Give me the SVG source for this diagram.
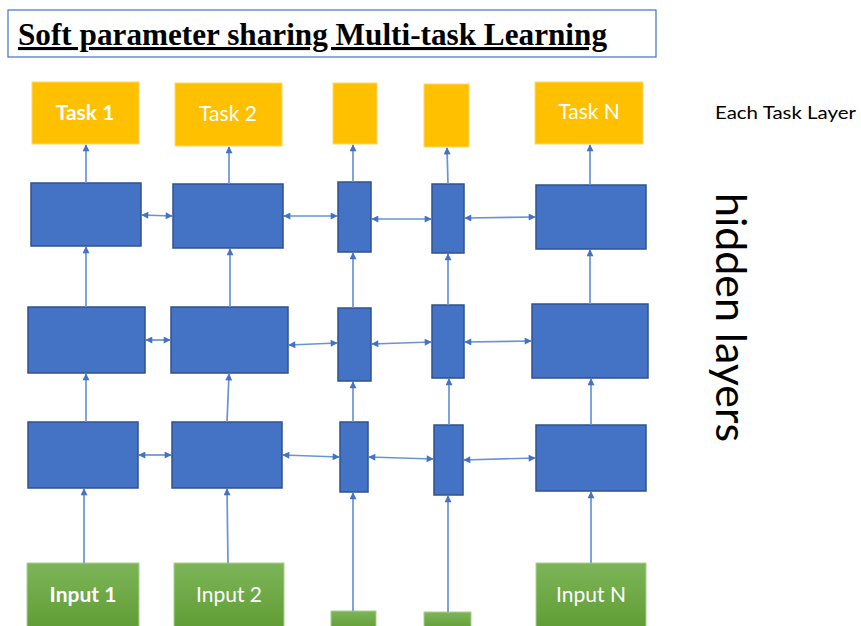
<svg xmlns="http://www.w3.org/2000/svg" width="861" height="626" viewBox="0 0 861 626">
<defs>
<style>
.task{fill:#FFC000;stroke:#FFD966;stroke-width:1}
.hid{fill:#4472C4;stroke:#2F528F;stroke-width:1.5}
.inp{fill:url(#g);stroke:#A9D18E;stroke-width:1}
.lbl{font-family:Lato,"Open Sans","Liberation Sans",sans-serif;fill:#fff;font-size:21px;text-anchor:middle}
.conn line{stroke:#6A93D6;stroke-width:1.7}
.up{marker-end:url(#ah)}
.bi{marker-start:url(#ah);marker-end:url(#ah)}
</style>
<linearGradient id="g" x1="0" y1="0" x2="0" y2="1">
<stop offset="0" stop-color="#7DB558"/>
<stop offset="1" stop-color="#5E9B33"/>
</linearGradient>
<marker id="ah" viewBox="0 0 10 10" refX="9" refY="5" markerWidth="8" markerHeight="7" markerUnits="userSpaceOnUse" orient="auto-start-reverse">
<path d="M0,0L10,5L0,10z" fill="#4472C4"/>
</marker>
</defs>
<rect width="861" height="626" fill="#fff"/>
<g id="title">
<rect x="8" y="10" width="648" height="47" fill="#fff" stroke="#4472C4" stroke-width="1.2"/>
<text x="18" y="45" font-family="'Liberation Serif','Times New Roman',serif" font-weight="bold" font-size="31" text-decoration="underline" textLength="589" lengthAdjust="spacingAndGlyphs">Soft parameter sharing Multi-task Learning</text>
</g>
<g id="task1"><rect class="task" x="32" y="82" width="107" height="62"/><text class="lbl" x="85" y="120" font-weight="bold">Task 1</text></g>
<g id="task2"><rect class="task" x="175" y="83" width="107" height="63"/><text class="lbl" x="228" y="121">Task 2</text></g>
<g id="task3"><rect class="task" x="333" y="83" width="44" height="61"/></g>
<g id="task4"><rect class="task" x="424" y="84" width="45" height="63"/></g>
<g id="taskN"><rect class="task" x="535" y="82" width="108" height="62"/><text class="lbl" x="589" y="119">Task N</text></g>
<g id="h1c1"><rect class="hid" x="31" y="183" width="110" height="63"/></g>
<g id="h1c2"><rect class="hid" x="173" y="184" width="110" height="64"/></g>
<g id="h1c3"><rect class="hid" x="338" y="182" width="33" height="70"/></g>
<g id="h1c4"><rect class="hid" x="432" y="184" width="32" height="69"/></g>
<g id="h1c5"><rect class="hid" x="536" y="185" width="110" height="64"/></g>
<g id="h2c1"><rect class="hid" x="28" y="307" width="117" height="66"/></g>
<g id="h2c2"><rect class="hid" x="171" y="307" width="117" height="66"/></g>
<g id="h2c3"><rect class="hid" x="338" y="308" width="33" height="73"/></g>
<g id="h2c4"><rect class="hid" x="432" y="305" width="32" height="73"/></g>
<g id="h2c5"><rect class="hid" x="532" y="304" width="116" height="74"/></g>
<g id="h3c1"><rect class="hid" x="28" y="422" width="110" height="66"/></g>
<g id="h3c2"><rect class="hid" x="172" y="422" width="110" height="66"/></g>
<g id="h3c3"><rect class="hid" x="340" y="422" width="28" height="70"/></g>
<g id="h3c4"><rect class="hid" x="434" y="425" width="29" height="70"/></g>
<g id="h3c5"><rect class="hid" x="536" y="425" width="110" height="66"/></g>
<g id="input1"><rect class="inp" x="27" y="563" width="112" height="70"/><text class="lbl" x="83" y="602" font-weight="bold">Input 1</text></g>
<g id="input2"><rect class="inp" x="174" y="563" width="110" height="70"/><text class="lbl" x="229" y="602">Input 2</text></g>
<g id="input3"><rect class="inp" x="331" y="611" width="45" height="20"/></g>
<g id="input4"><rect class="inp" x="424" y="612" width="47" height="20"/></g>
<g id="inputN"><rect class="inp" x="536" y="563" width="110" height="70"/><text class="lbl" x="591" y="602">Input N</text></g>
<g id="labels">
<text x="715" y="119" font-family="Lato,'Open Sans','Liberation Sans',sans-serif" font-size="18" fill="#000" textLength="141" lengthAdjust="spacingAndGlyphs">Each Task Layer</text>
<text transform="translate(716,193) rotate(90)" font-family="Lato,'Open Sans','Liberation Sans',sans-serif" font-size="42" fill="#000" textLength="249" lengthAdjust="spacingAndGlyphs">hidden layers</text>
</g>
<g class="conn" id="connectors">
<line class="up" x1="86" y1="183" x2="86" y2="145"/>
<line class="up" x1="86" y1="307" x2="86" y2="247"/>
<line class="up" x1="86" y1="422" x2="86" y2="374"/>
<line class="up" x1="84" y1="563" x2="84" y2="489"/>
<line class="up" x1="229" y1="184" x2="229" y2="147"/>
<line class="up" x1="230" y1="307" x2="230" y2="249"/>
<line class="up" x1="227" y1="422" x2="229" y2="374"/>
<line class="up" x1="228" y1="563" x2="227" y2="489"/>
<line class="up" x1="353" y1="182" x2="353" y2="145"/>
<line class="up" x1="353" y1="308" x2="353" y2="253"/>
<line class="up" x1="353" y1="422" x2="353" y2="382"/>
<line class="up" x1="353" y1="611" x2="353" y2="493"/>
<line class="up" x1="448" y1="184" x2="447" y2="148"/>
<line class="up" x1="448" y1="305" x2="448" y2="254"/>
<line class="up" x1="449" y1="425" x2="449" y2="379"/>
<line class="up" x1="448" y1="612" x2="448" y2="496"/>
<line class="up" x1="590" y1="185" x2="590" y2="145"/>
<line class="up" x1="590" y1="304" x2="590" y2="250"/>
<line class="up" x1="591" y1="425" x2="591" y2="379"/>
<line class="up" x1="591" y1="563" x2="591" y2="492"/>
<line class="bi" x1="142" y1="215" x2="172" y2="216"/>
<line class="bi" x1="284" y1="216" x2="337" y2="216"/>
<line class="bi" x1="372" y1="219" x2="431" y2="219"/>
<line class="bi" x1="465" y1="218" x2="535" y2="217"/>
<line class="bi" x1="146" y1="340" x2="170" y2="340"/>
<line class="bi" x1="289" y1="345" x2="337" y2="343"/>
<line class="bi" x1="372" y1="344" x2="431" y2="342"/>
<line class="bi" x1="465" y1="342" x2="531" y2="341"/>
<line class="bi" x1="139" y1="455" x2="171" y2="455"/>
<line class="bi" x1="283" y1="455" x2="339" y2="457"/>
<line class="bi" x1="369" y1="457" x2="433" y2="459"/>
<line class="bi" x1="464" y1="460" x2="535" y2="458"/>
</g>
</svg>
